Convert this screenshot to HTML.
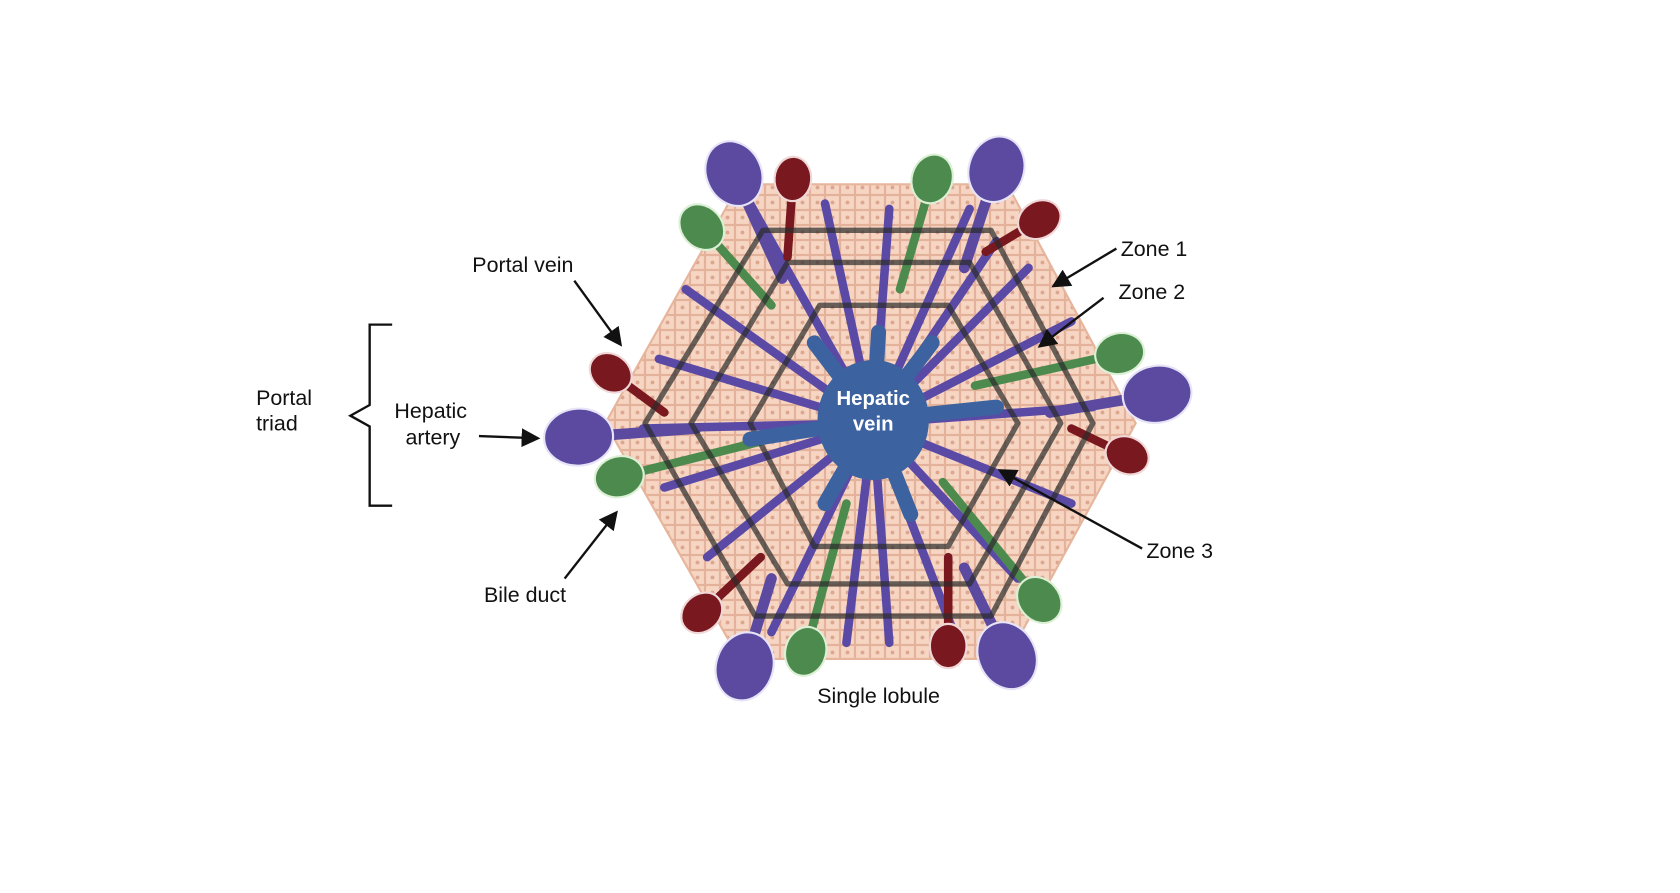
<!DOCTYPE html>
<html><head><meta charset="utf-8"><style>
html,body{margin:0;padding:0;background:#fff;width:1680px;height:893px;overflow:hidden}
svg{display:block}
text{font-family:"Liberation Sans",sans-serif;font-size:20px;fill:#111}
</style></head><body>
<svg id="fig" width="1680" height="893" viewBox="0 0 1568 833.5" xmlns="http://www.w3.org/2000/svg">
<defs>
<pattern id="cells" width="14" height="14" patternUnits="userSpaceOnUse">
<rect width="14" height="14" fill="#f6d5c2"/>
<rect x="0.5" y="0.5" width="13" height="13" fill="none" stroke="#e4b29a" stroke-width="1"/>
<circle cx="7" cy="7" r="1.8" fill="#dca690"/>
</pattern>
<marker id="arr" markerWidth="8" markerHeight="8" refX="6" refY="4" orient="auto"><path d="M0,0 L8,4 L0,8 z" fill="#111"/></marker>
</defs>
<polygon points="690,172 940,172 1060,395 940,615 690,615 565,395" fill="url(#cells)" stroke="#e6b59c" stroke-width="2"/>
<g id="vessels"></g>
<g id="zones" fill="none" stroke="#2b2b2b" stroke-opacity="0.7" stroke-width="5" stroke-linejoin="round">
<polygon points="712,215 925,215 1020,395 925,575 705,575 602,395"/>
<polygon points="735,245 905,245 990,395 905,545 735,545 645,395"/>
<polygon points="765,285 885,285 950,395 885,510 760,510 700,395"/>
</g>
<g id="center"></g>
<text x="815" y="378" text-anchor="middle" style="fill:#fff;font-weight:bold;font-size:19px">Hepatic</text>
<text x="815" y="402" text-anchor="middle" style="fill:#fff;font-weight:bold;font-size:19px">vein</text>
<g stroke="#111" stroke-width="2.2" fill="none">
<path d="M366,303 H345 V378 L327,388 L345,398 V472 H366"/>
<line x1="536" y1="262" x2="578" y2="320" marker-end="url(#arr)"/>
<line x1="447" y1="407" x2="500" y2="409" marker-end="url(#arr)"/>
<line x1="527" y1="540" x2="574" y2="480" marker-end="url(#arr)"/>
<line x1="1042" y1="232" x2="985" y2="266" marker-end="url(#arr)"/>
<line x1="1030" y1="278" x2="972" y2="322" marker-end="url(#arr)"/>
<line x1="1066" y1="512" x2="935" y2="440" marker-end="url(#arr)"/>
</g>
<text x="488" y="254" text-anchor="middle">Portal vein</text>
<text x="239" y="378">Portal</text>
<text x="239" y="402">triad</text>
<text x="402" y="390" text-anchor="middle">Hepatic</text>
<text x="404" y="415" text-anchor="middle">artery</text>
<text x="490" y="562" text-anchor="middle">Bile duct</text>
<text x="1046" y="239">Zone 1</text>
<text x="1044" y="279">Zone 2</text>
<text x="1070" y="521">Zone 3</text>
<text x="820" y="656" text-anchor="middle">Single lobule</text>
</svg>
<script>
var NS="http://www.w3.org/2000/svg";
var vg=document.getElementById('vessels'), cg=document.getElementById('center');
function mk(tag,attrs,parent){var e=document.createElementNS(NS,tag);for(var k in attrs)e.setAttribute(k,attrs[k]);parent.appendChild(e);return e;}
var rays=[[815,395,700,190],[815,395,770,190],[815,395,830,195],[815,395,905,195],[815,395,960,250],[815,395,1000,300],[815,395,1020,380],[815,395,1000,470],[815,395,950,540],[815,395,890,590],[815,395,830,600],[815,395,790,600],[815,395,720,590],[815,395,660,520],[815,395,620,455],[815,395,600,400],[815,395,615,335],[815,395,640,270],[815,395,930,225]];
rays.forEach(function(r){
var e=mk('line',{x1:r[0],y1:r[1],x2:r[2],y2:r[3],stroke:'#5a4aa6','stroke-width':8,'stroke-linecap':'round'},vg);


});
var triads=[['v',685,162,730,260,27],['a',740,167,735,240,18],['b',655,212,720,285,20],
['v',930,158,900,250,27],['b',870,167,840,270,20],['a',970,205,920,235,18],
['v',1080,368,980,385,28],['b',1045,330,910,360,20],['a',1052,425,1000,400,18],
['v',940,612,900,530,28],['b',970,560,880,450,20],['a',885,603,885,520,18],
['v',695,622,720,540,28],['a',655,572,710,520,18],['b',752,608,790,470,20],
['v',540,408,650,400,28],['a',570,348,620,385,18],['b',578,445,710,412,20]];
var col={v:['#5b4aa0','#e8e4f8'],a:['#7a1820','#f0d8d8'],b:['#4d8a4e','#dcf0d6']};
triads.forEach(function(t){
var c=col[t[0]];
var s=mk('line',{x1:t[1],y1:t[2],x2:t[3],y2:t[4],stroke:c[0],'stroke-width':t[0]=='v'?10:8,'stroke-linecap':'round'},vg);


var ang=Math.atan2(t[4]-t[2],t[3]-t[1])*180/Math.PI;
var b=mk('ellipse',{cx:t[1],cy:t[2],rx:t[5]*1.15,ry:t[5]*0.95,fill:c[0],stroke:c[1],'stroke-width':2,transform:'rotate('+ang+' '+t[1]+' '+t[2]+')'},vg);


});
var cb=mk('ellipse',{cx:815,cy:392,rx:52,ry:56,fill:'#3d62a0'},cg);


var branches=[[815,392,760,320],[815,392,870,320],[815,392,700,410],[815,392,930,380],[815,392,770,470],[815,392,850,480],[815,392,820,310]];
branches.forEach(function(b){
var e=mk('line',{x1:b[0],y1:b[1],x2:b[2],y2:b[3],stroke:'#3d62a0','stroke-width':14,'stroke-linecap':'round'},cg);


});
</script>
</body></html>
